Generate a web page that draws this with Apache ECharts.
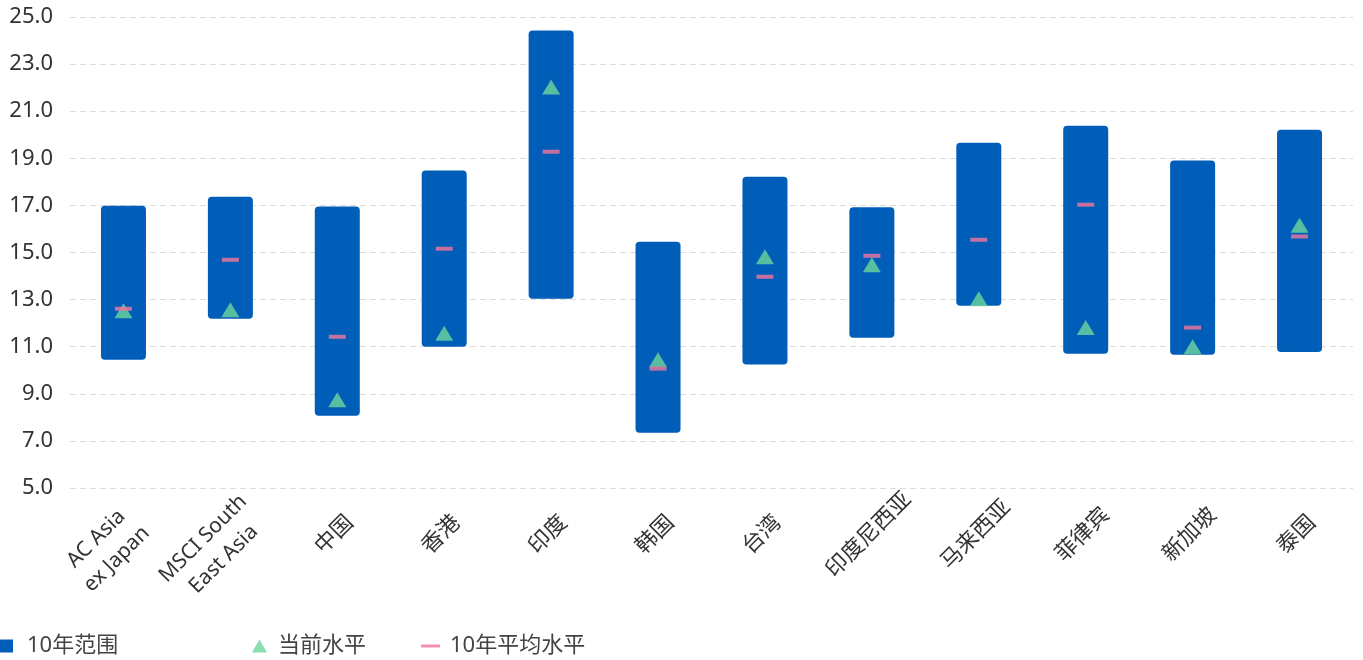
<!DOCTYPE html>
<html>
<head>
<meta charset="utf-8">
<script src="https://cdn.jsdelivr.net/npm/echarts@6/dist/echarts.min.js"></script>
<style>
html,body{margin:0;padding:0;background:#fff;}
#chart{width:1363px;height:660px;}
</style>
</head>
<body>
<div id="chart"></div>
<script>
var categories = ['AC Asia\nex Japan','MSCI South\nEast Asia','中国','香港','印度','韩国','台湾','印度尼西亚','马来西亚','菲律宾','新加坡','泰国'];
var rangeHigh = [16.98, 17.37, 16.95, 18.48, 24.43, 15.46, 18.22, 16.92, 19.66, 20.38, 18.91, 20.21];
var rangeLow  = [10.45, 12.19, 8.07, 11.0, 13.04, 7.35, 10.24, 11.38, 12.74, 10.7, 10.66, 10.77];
var currentLevel = [12.53, 12.57, 8.75, 11.57, 22.03, 10.45, 14.82, 14.48, 13.04, 11.81, 11.0, 16.16];
var avgLevel = [12.61, 14.69, 11.42, 15.16, 19.28, 10.07, 13.97, 14.86, 15.54, 17.03, 11.81, 15.68];
var yTicks = {min: 5, max: 25, interval: 2};

var FONT = "'Noto Sans', 'Noto Sans CJK SC', sans-serif";
var TXT = '#333333';
var BLUE = '#005EB8';
var GREEN = '#6DD69B';
var PINK = '#F2769B';

var rangeSize = rangeHigh.map(function(h, i){ return +(h - rangeLow[i]).toFixed(3); });

var chart = echarts.init(document.getElementById('chart'), null, {renderer: 'canvas'});
chart.setOption({
  animation: false,
  backgroundColor: '#fff',
  textStyle: {fontFamily: FONT},
  grid: {left: 70, right: 10, top: 17, bottom: 172, outerBoundsMode: 'none', containLabel: false},
  legend: [
    {data: ['10年范围'], left: 0, top: 635, padding: 0, icon: 'rect', itemWidth: 13, itemHeight: 13,
     textStyle: {fontFamily: FONT, fontSize: 22, color: '#444', padding: [0,0,0,9]}},
    {data: ['当前水平'], left: 252, top: 635, padding: 0, icon: 'triangle', itemWidth: 15, itemHeight: 13,
     textStyle: {fontFamily: FONT, fontSize: 22, color: '#444', padding: [0,0,0,6]}},
    {data: ['10年平均水平'], left: 421, top: 635, padding: 0, icon: 'rect', itemWidth: 19, itemHeight: 3,
     textStyle: {fontFamily: FONT, fontSize: 22, color: '#444', padding: [0,0,0,5]}}
  ],
  xAxis: {
    type: 'category',
    data: categories,
    axisLine: {show: false},
    axisTick: {show: false},
    splitLine: {show: false},
    axisLabel: {
      interval: 0,
      rotate: 45,
      align: 'center',
      verticalAlign: 'middle',
      margin: 44,
      fontFamily: FONT,
      fontSize: 22,
      lineHeight: 29,
      color: TXT,
      formatter: function(v){
        if (v.indexOf('\n') < 0) return '{c|' + v + '}';
        return v.split('\n').map(function(l){ return '{m|' + l + '}'; }).join('\n');
      },
      rich: {
        c: {fontFamily: FONT, fontSize: 22, lineHeight: 29, color: TXT, padding: [0, 8, 0, 0]},
        m: {fontFamily: FONT, fontSize: 21, lineHeight: 29, color: TXT, padding: [0, 48, 0, 0]}
      }
    }
  },
  yAxis: {
    type: 'value',
    min: yTicks.min,
    max: yTicks.max,
    interval: yTicks.interval,
    axisLine: {show: false},
    axisTick: {show: false},
    axisLabel: {
      margin: 17,
      fontFamily: FONT,
      fontSize: 22,
      color: TXT,
      formatter: function(v){ return v.toFixed(1); }
    },
    splitLine: {show: true, lineStyle: {color: '#dcdcdc', width: 1, type: [6, 4]}}
  },
  series: [
    {
      name: 'base',
      type: 'bar',
      stack: 'range',
      barWidth: 45,
      silent: true,
      itemStyle: {color: 'transparent'},
      data: rangeLow
    },
    {
      name: '10年范围',
      type: 'bar',
      stack: 'range',
      barWidth: 45,
      itemStyle: {color: BLUE, borderRadius: 4},
      data: rangeSize
    },
    {
      name: '当前水平',
      type: 'scatter',
      symbol: 'triangle',
      symbolSize: [18, 15],
      itemStyle: {color: GREEN},
      z: 3,
      data: currentLevel
    },
    {
      name: '10年平均水平',
      type: 'scatter',
      symbol: 'rect',
      symbolSize: [17, 4],
      itemStyle: {color: PINK},
      z: 4,
      data: avgLevel
    }
  ]
});
</script>
</body>
</html>
